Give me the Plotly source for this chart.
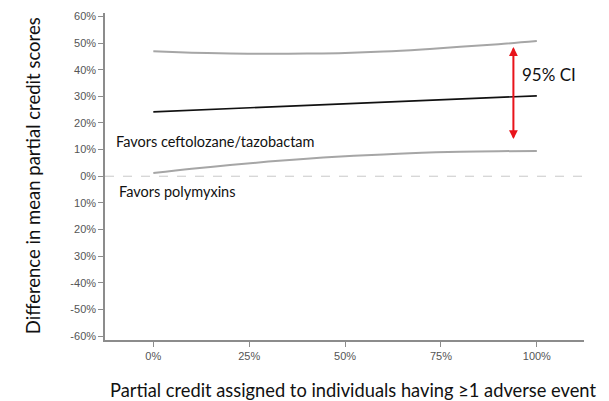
import plotly.graph_objects as go

# Partial credit (%) assigned to individuals with >=1 adverse event
credit = [0, 10, 20, 30, 40, 50, 60, 70, 80, 90, 100]
# Difference in mean partial credit scores (%)
mean_diff = [24.2, 24.8, 25.4, 26.0, 26.6, 27.2, 27.8, 28.4, 29.0, 29.6, 30.2]
ci_upper = [46.9, 46.4, 46.1, 46.0, 46.1, 46.3, 46.8, 47.6, 48.6, 49.6, 50.8]
ci_lower = [1.2, 2.8, 4.2, 5.5, 6.6, 7.5, 8.2, 8.8, 9.2, 9.4, 9.5]

x_ticks = [0, 25, 50, 75, 100]
x_tick_text = ["0%", "25%", "50%", "75%", "100%"]
y_ticks = [60, 50, 40, 30, 20, 10, 0, -10, -20, -30, -40, -50, -60]
y_tick_text = ["60%", "50%", "40%", "30%", "20%", "10%", "0%",
               "10%", "20%", "30%", "-40%", "-50%", "-60%"]

ci_arrow_x = 93.9
ci_arrow_top = 48.5
ci_arrow_bottom = 14.0

fig = go.Figure()

fig.add_trace(go.Scatter(x=credit, y=ci_upper, mode="lines",
                         line=dict(color="#a6a6a6", width=2, shape="spline"),
                         showlegend=False, hoverinfo="skip"))
fig.add_trace(go.Scatter(x=credit, y=ci_lower, mode="lines",
                         line=dict(color="#a6a6a6", width=2, shape="spline"),
                         showlegend=False, hoverinfo="skip"))
fig.add_trace(go.Scatter(x=credit, y=mean_diff, mode="lines",
                         line=dict(color="#111111", width=1.7),
                         showlegend=False, hoverinfo="skip"))

# zero reference line
fig.add_shape(type="line", xref="paper", yref="y", x0=0, x1=1, y0=0, y1=0,
              line=dict(color="#c8c8c8", width=1, dash="dash"))

# double-headed red arrow marking the confidence interval
for tip, tail in [(ci_arrow_top, ci_arrow_bottom), (ci_arrow_bottom, ci_arrow_top)]:
    fig.add_annotation(x=ci_arrow_x, y=tip, ax=ci_arrow_x, ay=tail,
                       xref="x", yref="y", axref="x", ayref="y",
                       showarrow=True, arrowhead=2, arrowsize=1.1,
                       arrowwidth=1.6, arrowcolor="#e8141b", text="")

fig.add_annotation(x=95.6, y=38.1, xref="x", yref="y", text="95% CI",
                   showarrow=False, xanchor="left", yanchor="middle",
                   font=dict(family="Lato", size=17, color="#111111"))
fig.add_annotation(x=-10.2, y=13.0, xref="x", yref="y",
                   text="Favors ceftolozane/tazobactam",
                   showarrow=False, xanchor="left", yanchor="middle",
                   font=dict(family="Lato", size=14.5, color="#111111"))
fig.add_annotation(x=-9.6, y=-5.9, xref="x", yref="y",
                   text="Favors polymyxins",
                   showarrow=False, xanchor="left", yanchor="middle",
                   font=dict(family="Lato", size=14.5, color="#111111"))

# axis titles
fig.add_annotation(x=-0.151, y=0.503, xref="paper", yref="paper",
                   text="Difference in mean partial credit scores",
                   showarrow=False, textangle=-90,
                   xanchor="center", yanchor="middle",
                   font=dict(family="Lato", size=18.5, color="#111111"))
fig.add_annotation(x=0.518, y=-0.152, xref="paper", yref="paper",
                   text="Partial credit assigned to individuals having ≥1 adverse event",
                   showarrow=False, xanchor="center", yanchor="middle",
                   font=dict(family="Lato", size=18.3, color="#111111"))

axis_style = dict(showgrid=False, zeroline=False, showline=True,
                  linecolor="#8c8c8c", linewidth=1.5,
                  ticks="outside", ticklen=5, tickcolor="#8c8c8c", tickwidth=1,
                  tickfont=dict(family="Liberation Sans", size=11, color="#555555"))

fig.update_xaxes(range=[-12.6, 112.3], tickvals=x_ticks, ticktext=x_tick_text,
                 **axis_style)
fig.update_yaxes(range=[-61.5, 61.3], tickvals=y_ticks, ticktext=y_tick_text,
                 **axis_style)

fig.update_layout(width=609, height=401,
                  margin=dict(l=104.5, r=25, t=10.7, b=61),
                  paper_bgcolor="white", plot_bgcolor="white")

fig.write_html("out.html")
